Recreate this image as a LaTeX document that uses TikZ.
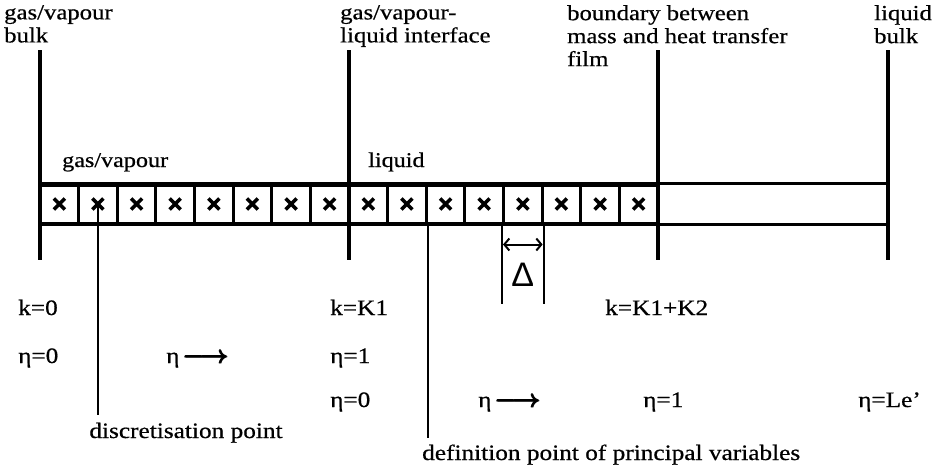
\documentclass[tikz,border=0pt]{standalone}
\usepackage{fontspec}
\usepackage{amsmath}
\setmainfont[FakeStretch=1.15, FakeBold=0.6]{Liberation Serif}
\newfontfamily\deltafont{Liberation Sans}
\usetikzlibrary{arrows.meta, positioning, calc}
\newcommand{\etaarrow}{η\,{\fontsize{25}{25}\selectfont\boldmath$\pmb{\longrightarrow}$}}

\begin{document}
\begin{tikzpicture}[x=1pt, y=-1pt,
    every node/.style={inner sep=0pt, font=\fontsize{22}{24}\selectfont},
    wall/.style={line width=3.8pt},
    cell/.style={draw, line width=3pt, minimum width=38.625pt, minimum height=38pt},
    cross/.style={line width=3.6pt},
    pointer/.style={line width=2.2pt},
    toplabel/.style={anchor=north west, align=left, font=\fontsize{21.5}{23}\selectfont},
    phaselabel/.style={anchor=base west, font=\fontsize{21}{24}\selectfont},
    varlabel/.style={anchor=base west}]
\useasboundingbox (0,0) rectangle (939,466);

% labels above the film
\node[toplabel] (gbulk lbl) at (4,5) {gas/vapour\\bulk};
\node[toplabel] (iface lbl) at (340,5) {gas/vapour-\\liquid interface};
\node[toplabel] (bdry lbl) at (567,5) {boundary between\\mass and heat transfer\\film};
\node[toplabel] (lbulk lbl) at (874,5) {liquid\\bulk};

\coordinate (gbulk top) at (40,50);   \coordinate (gbulk bot) at (40,260);
\coordinate (iface top) at (349,50);  \coordinate (iface bot) at (349,260);
\coordinate (bdry top) at (658,50);   \coordinate (bdry bot) at (658,260);
\coordinate (lbulk top) at (888,50);  \coordinate (lbulk bot) at (888,260);

\foreach \w in {gbulk, iface, bdry, lbulk}
    \draw[wall] (\w\space top) -- (\w\space bot);

% the discretised film
\foreach \i in {1,...,16} {
    \node[cell] (c\i) at ({40+(\i-0.5)*38.625},204) {};
    \draw[cross] ($(c\i.center)+(-5.5,-5.5)$) -- ($(c\i.center)+(5.5,5.5)$)
                 ($(c\i.center)+(-5.5,5.5)$) -- ($(c\i.center)+(5.5,-5.5)$);
}
\draw[wall] (c1.north west) -- (c1.north west -| lbulk top);
\draw[wall] (c1.south west) -- (c1.south west -| lbulk top);

\node[phaselabel] (gas) at (62,167) {gas/vapour};
\node[phaselabel] (liq) at (368,167) {liquid};

% step size
\coordinate (delta w) at ($(c13.south west)+(0,79)$);
\coordinate (delta e) at ($(c13.south east)+(0,79)$);
\draw[pointer] (c13.south west) -- (delta w);
\draw[pointer] (c13.south east) -- (delta e);
\draw[{Straight Barb[length=5pt,width=12pt]}-{Straight Barb[length=5pt,width=12pt]}, line width=2pt]
    ($(c13.south west)+(1,20)$) -- ($(c13.south east)+(-1,20)$);
\node (delta) at ($(c13.south)+(0,50)$) {\deltafont\fontsize{34}{34}\selectfont Δ};

% indices and coordinates
\node[varlabel] (k0) at (18,315) {k=0};
\node[varlabel] (kK1) at (330,315) {k=K1};
\node[varlabel] (kK12) at (605,315) {k=K1+K2};

\node[varlabel] (eta g0) at (18,363) {η=0};
\node[varlabel] (eta g) at (166,363) {\etaarrow};
\node[varlabel] (eta g1) at (330,363) {η=1};

\node[varlabel] (eta l0) at (330,407) {η=0};
\node[varlabel] (eta l) at (478,407) {\etaarrow};
\node[varlabel] (eta l1) at (643,407) {η=1};
\node[varlabel] (eta le) at (858,407) {η=Le'};

% pointers to the grid points
\node[anchor=base] (disc) at (186,438) {discretisation point};
\draw[pointer] (c2.center) -- (c2.center |- 0,415);
\node[varlabel] (defn) at (422,460) {definition point of principal variables};
\draw[pointer] (c10.south east) -- (c10.south east |- 0,438);
\end{tikzpicture}
\end{document}
